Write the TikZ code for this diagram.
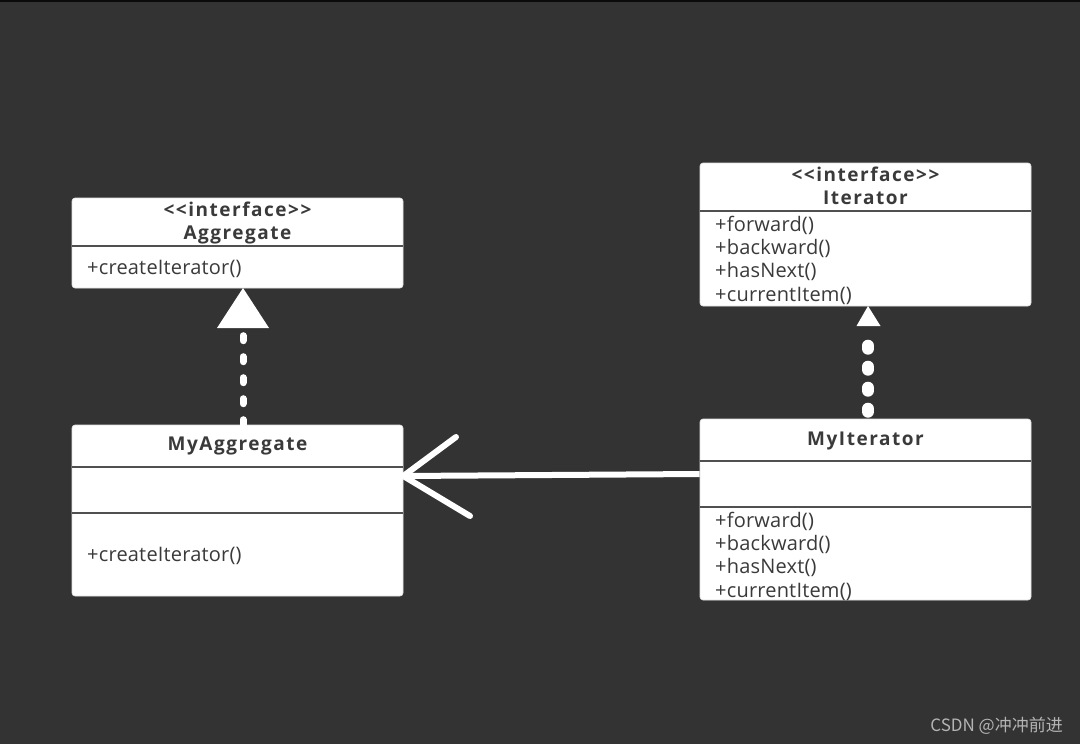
\documentclass[tikz,border=0pt]{standalone}
\usepackage{fontspec}
\setmainfont{Open Sans}
\newfontfamily\cjkfont{Noto Sans CJK SC}
\usetikzlibrary{arrows.meta}
\definecolor{bgc}{HTML}{333333}
\definecolor{txt}{HTML}{3A3A3A}
\definecolor{divc}{HTML}{505050}
\definecolor{wmc}{HTML}{B4B4B4}
\tikzset{
  x=1pt, y=-1pt,
  umlbox/.style={fill=white, draw=white!88!black, line width=0.6pt, rounded corners=3pt, inner sep=0pt},
  divider/.style={divc, line width=2pt},
  headtxt/.style={text=txt, font=\fontsize{19}{20}\selectfont\bfseries\addfontfeatures{LetterSpace=8}, inner sep=0pt, anchor=base},
  methtxt/.style={text=txt, font=\fontsize{20}{23}\selectfont\addfontfeatures{LetterSpace=1}, inner sep=0pt, anchor=base west},
  realdash/.style={white, line width=7pt, line cap=round, dash pattern=on 5pt off 16pt},
  realdot/.style={white, line width=12pt, line cap=round, dash pattern=on 3pt off 18pt},
  assoc/.style={white, line width=6pt}
}
\newcommand{\stereo}{<{}<interface>{}>}
\begin{document}
\begin{tikzpicture}
\fill[bgc] (0,0) rectangle (1080,744);
\useasboundingbox (0,0) rectangle (1080,744);
\draw[black!80!bgc, line width=1.5pt] (0,0.75) -- (1080,0.75);

% Aggregate
\node[umlbox, minimum width=331pt, minimum height=90pt] (agg) at (237.5,243) {};
\draw[divider] (agg.west |- 0,246) -- (agg.east |- 0,246);
\node[headtxt] (aggst) at (237.5,216) {\stereo};
\node[headtxt] (aggnm) at (237.5,239) {Aggregate};
\node[methtxt] (aggm) at (87,274) {+createIterator()};

% Iterator
\node[umlbox, minimum width=331pt, minimum height=143pt] (it) at (865.5,234.5) {};
\draw[divider] (it.west |- 0,211) -- (it.east |- 0,211);
\node[headtxt] (itst) at (865.5,181) {\stereo};
\node[headtxt] (itnm) at (865.5,204) {Iterator};
\node[methtxt] (itm1) at (715,231) {+forward()};
\node[methtxt] (itm2) at (715,254) {+backward()};
\node[methtxt] (itm3) at (715,277) {+hasNext()};
\node[methtxt] (itm4) at (715,301) {+currentItem()};

% MyAggregate
\node[umlbox, minimum width=331pt, minimum height=171pt] (myagg) at (237.5,510.5) {};
\draw[divider] (myagg.west |- 0,467) -- (myagg.east |- 0,467);
\draw[divider] (myagg.west |- 0,513) -- (myagg.east |- 0,513);
\node[headtxt] (myaggnm) at (237.5,450) {MyAggregate};
\node[methtxt] (myaggm) at (87,561) {+createIterator()};

% MyIterator
\node[umlbox, minimum width=331pt, minimum height=181pt] (myit) at (865.5,509.5) {};
\draw[divider] (myit.west |- 0,461) -- (myit.east |- 0,461);
\draw[divider] (myit.west |- 0,507) -- (myit.east |- 0,507);
\node[headtxt] (myitnm) at (865.5,445) {MyIterator};
\begin{scope}
\clip[rounded corners=3pt] (myit.south west) rectangle (myit.north east);
\node[methtxt] (myitm1) at (715,527) {+forward()};
\node[methtxt] (myitm2) at (715,550) {+backward()};
\node[methtxt] (myitm3) at (715,573) {+hasNext()};
\node[methtxt] (myitm4) at (715,597) {+currentItem()};
\end{scope}

% realization MyAggregate -> Aggregate
\coordinate (aggtip) at (243,288);
\coordinate (aggbase) at (243,327);
\draw[realdash] (myagg.north -| aggtip) -- (aggbase);
\fill[white] (aggtip) -- (217,328) -- (269,328) -- cycle;

% realization MyIterator -> Iterator
\coordinate (ittip) at (868,306);
\coordinate (itbase) at (868,330);
\draw[realdot] (myit.north -| ittip) ++(0,-7) -- (itbase);
\fill[white] (ittip) -- (856.5,326) -- (880.5,326) -- cycle;

% association MyIterator -> MyAggregate
\coordinate (asstart) at (myit.west |- 0,474);
\coordinate (asend) at (myagg.east |- 0,476);
\draw[assoc] (asstart) -- (asend);
\draw[assoc, line cap=round, line join=round] (456,437) -- (asend) -- (470,516);

% watermark
\node[text=wmc, font=\cjkfont\fontsize{17}{20}\selectfont, anchor=base east, inner sep=0pt] (wm) at (1063,731) {CSDN @冲冲前进};
\end{tikzpicture}
\end{document}
